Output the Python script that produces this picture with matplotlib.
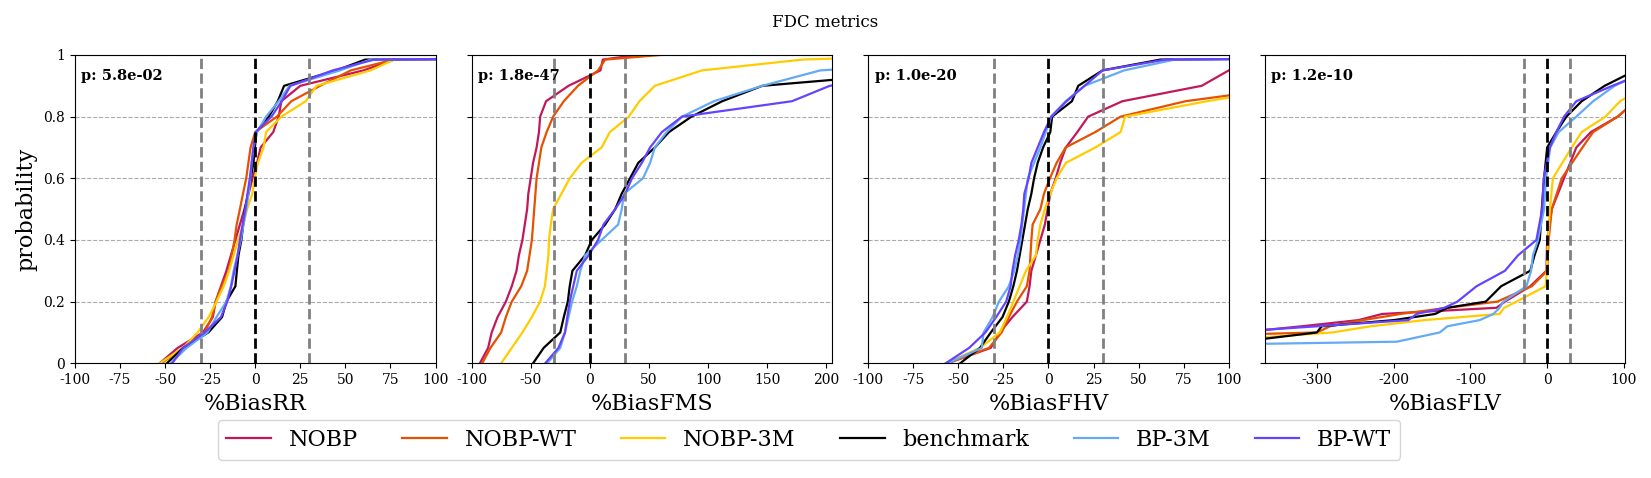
import numpy as np
import matplotlib.pyplot as plt

plt.rcParams['font.family'] = 'serif'
plt.rcParams['axes.unicode_minus'] = False

models = ['NOBP', 'NOBP-WT', 'NOBP-3M', 'benchmark', 'BP-3M', 'BP-WT']
colors = ['#c2185b', '#e65100', '#ffcc00', '#000000', '#64aaf5', '#6444ff']
metrics = ['%BiasRR', '%BiasFMS', '%BiasFHV', '%BiasFLV']
p_values = ['5.8e-02', '1.8e-47', '1.0e-20', '1.2e-10']

prob = [0, 0.05, 0.1, 0.15, 0.2, 0.25, 0.3, 0.35, 0.4, 0.45, 0.5,
        0.55, 0.6, 0.65, 0.7, 0.75, 0.8, 0.85, 0.9, 0.95, 0.985, 1.0]
prob_flv = [0.05, 0.07, 0.1, 0.12, 0.14, 0.16, 0.18, 0.2, 0.25, 0.3, 0.35,
            0.4, 0.5, 0.6, 0.7, 0.75, 0.8, 0.85, 0.9, 0.95, 0.985, 1.0]

rr_vals = [
    [-53, -43, -29, -23.5, -22, -19, -16, -13.5, -11, -8.5, -6, -3.7, -1.5, 1, 3, 10, 13, 14.5, 25, 60, 77, 400],
    [-52, -40, -28, -24, -22, -18.5, -14.7, -13, -11.5, -10.3, -8.5, -6.8, -5, -3.8, -2.6, 0, 12, 20, 36, 53, 77, 400],
    [-53, -40, -32, -25.8, -21.5, -17.5, -14.5, -12, -9.5, -6.6, -4.5, -1.6, -0.3, 1.5, 4.6, 6, 14.5, 28, 34, 64, 77, 400],
    [-49, -40, -26, -18.4, -16, -11, -10.2, -9.3, -7.7, -6.7, -5.7, -4, -2.5, -1, -0.2, 0.7, 7.5, 12.5, 16, 45, 61, 400],
    [-47, -38, -26.5, -21.5, -16, -13.5, -12, -10, -8, -6.5, -5, -3.7, -2.7, -2, -1, 1, 6, 13, 19, 47, 64, 400],
    [-46, -40, -28, -19, -15.5, -13.3, -11.5, -9.7, -8.5, -7, -5.5, -4.3, -3, -2, -1, 0.2, 9, 14.7, 19.5, 43, 66, 400],
]
fms_vals = [
    [-93, -86, -83, -78, -71, -66, -62, -60, -57, -55, -53, -52, -50, -48, -45, -43, -42, -37, -18, 9, 11, 40],
    [-91, -84, -75, -71, -66, -58, -53, -51, -49, -48, -47, -46, -45, -43, -41, -36.5, -31, -22, -10, 7, 13, 60],
    [-75, -66, -57, -49, -42, -38, -36.5, -35, -34.5, -33, -31, -24, -17, -7, 10, 17, 33, 42, 55, 95, 180, 300],
    [-48, -39, -25, -22, -18.6, -17, -14.7, -4, 1.7, 13, 21.5, 27, 34, 41, 55, 67, 86, 112, 146, 300, 450, 1000],
    [-36, -25, -21, -18, -15, -11, -8, -4, 10, 24, 27, 29, 45, 51, 55, 65, 78, 105, 146, 195, 350, 1000],
    [-37.7, -26.5, -21, -19, -17, -14, -11, -1, 7, 11.6, 21.5, 30, 35.7, 44, 51, 61, 78, 171, 203, 300, 450, 1000],
]
fhv_vals = [
    [-56, -32, -27, -20, -12, -10.5, -9.5, -7, -4.5, -2, -0.5, 1, 4, 6.5, 9.6, 16, 22, 41, 85, 100, 130, 400],
    [-56, -33, -26, -22, -17.5, -12, -10.5, -10, -9.5, -8.8, -4.5, -2.5, 0.8, 4.5, 9.5, 26, 40, 76, 140, 170, 210, 400],
    [-57, -38, -27, -23, -19.5, -16, -12.5, -7, -6, -4.5, -2, 1, 4.5, 9.6, 26, 40, 42.5, 88, 140, 180, 220, 400],
    [-49, -38, -32, -25.5, -22, -19.5, -17.5, -16, -14.5, -13, -11.5, -9.5, -8, -6, -3, 1, 2, 13, 16.5, 30, 62, 400],
    [-56, -37, -36, -31, -27.5, -22, -19, -17, -15.5, -14.6, -13.5, -12.5, -11.5, -8, -4.5, -1.5, 1.5, 9.5, 20, 42, 70, 400],
    [-57, -44, -35, -29, -23.5, -21, -20, -18.5, -16.5, -15, -14, -13.4, -11, -9.5, -6, -2.5, 1.5, 10, 20, 30, 65, 400],
]
flv_vals = [
    [-900, -700, -400, -320, -246, -215, -66, -55, -22, -1, -0.5, 0, 6, 22, 38, 57, 92, 115, 140, 200, 300, 500],
    [-1000, -750, -300, -283, -240, -191, -130, -65, -20, 0, 1, 2, 6, 19, 46, 60, 92, 115, 150, 220, 320, 500],
    [-800, -450, -280, -230, -160, -62, -56, -40, -2, -0.5, 0, 1, 3.5, 7.5, 32, 45, 76, 95, 130, 200, 300, 500],
    [-500, -400, -300, -294, -200, -146, -130, -80, -60, -22, -16.5, -9.6, -7, -4, 0, 12, 25, 45, 75, 115, 200, 500],
    [-700, -196, -140, -130, -88, -70, -62, -57, -27, -21, -18.5, -12, -4, -1.5, 4, 15, 38, 60, 88, 130, 200, 500],
    [-1200, -900, -420, -300, -181, -170, -134, -117, -92, -55, -38, -14, -6.5, -4.5, 3.5, 12, 22, 38, 85, 135, 200, 500],
]

all_vals = [rr_vals, fms_vals, fhv_vals, flv_vals]
all_prob = [prob, prob, prob, prob_flv]
xlims = [(-100, 100), (-100, 205), (-100, 100), (-368, 102)]
xticks = [np.arange(-100, 101, 25), np.arange(-100, 201, 50),
          np.arange(-100, 101, 25), np.arange(-300, 101, 100)]

fig, axes = plt.subplots(1, 4, figsize=(16.51, 4.78), dpi=100, sharey=True)
fig.subplots_adjust(left=0.0454, right=0.9845, top=0.885, bottom=0.24, wspace=0.1)

for i, ax in enumerate(axes):
    for j in range(len(models)):
        ax.plot(all_vals[i][j], all_prob[i], color=colors[j], lw=1.6, label=models[j])
    ax.axvline(-30, color='gray', ls='--', lw=2)
    ax.axvline(30, color='gray', ls='--', lw=2)
    ax.axvline(0, color='black', ls='--', lw=2)
    ax.set_xlim(xlims[i])
    ax.set_ylim(0, 1)
    ax.set_xticks(xticks[i])
    ax.set_xticklabels([str(t) for t in xticks[i]])
    ax.tick_params(labelsize=10)
    ax.grid(axis='y', ls='--', color='#aaaaaa', lw=0.8)
    ax.set_xlabel(metrics[i], fontsize=16)
    ax.text(0.018, 0.933, 'p: ' + p_values[i], transform=ax.transAxes,
            fontsize=10.5, fontweight='bold', va='center')

axes[0].set_yticks([0, 0.2, 0.4, 0.6, 0.8, 1])
axes[0].set_yticklabels(['0', '0.2', '0.4', '0.6', '0.8', '1'])
axes[0].set_ylabel('probability', fontsize=16)

fig.suptitle('FDC metrics', fontsize=12, y=0.97)
handles, labels = axes[0].get_legend_handles_labels()
fig.legend(handles, labels, loc='center', bbox_to_anchor=(0.49, 0.08),
           ncol=6, fontsize=16)

plt.savefig('out.png')
